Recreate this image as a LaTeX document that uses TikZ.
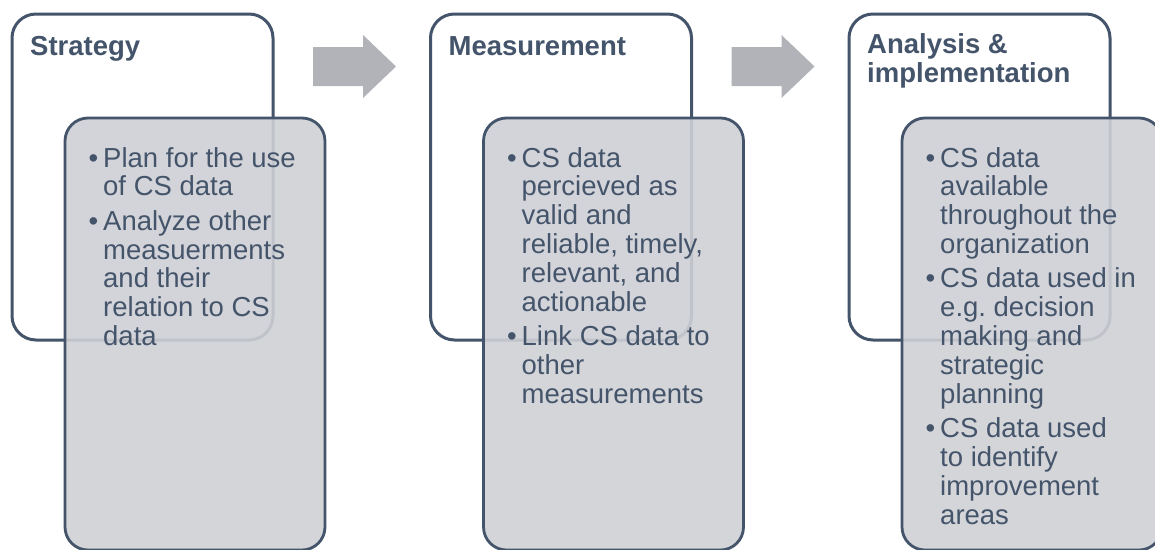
\documentclass[tikz,border=0pt]{standalone}
\usepackage{fontspec}
\setmainfont{Liberation Sans}
\frenchspacing
\definecolor{slate}{HTML}{44546A}
\definecolor{panel}{RGB}{207,208,213}
\definecolor{arrowgray}{RGB}{177,179,185}
\tikzset{
  backbox/.style={draw=slate, line width=3pt, fill=white, rounded corners=24pt,
    rectangle, outer sep=0pt, anchor=north west, minimum width=261pt, minimum height=326pt},
  frontbox/.style={draw=slate, line width=2.8pt, fill=panel, fill opacity=0.9, rounded corners=23pt,
    rectangle, outer sep=0pt, anchor=north west, minimum width=260pt, minimum height=432pt},
  stagetitle/.style={anchor=base west, inner sep=0pt, text=slate,
    font=\fontsize{27.5}{28.5}\selectfont\bfseries},
  bulletlist/.style={anchor=base west, inner sep=0pt, text=slate,
    font=\fontsize{27.5}{28.9}\selectfont},
  flowarrow/.style={fill=arrowgray},
}
\newcommand{\bul}{\makebox[14.5pt][l]{\textbullet}}
\newcommand{\gap}{\\[5.3pt]}
\begin{document}
\begin{tikzpicture}[x=1pt,y=-1pt]
\useasboundingbox (0,0) rectangle (1155,549);
\clip (0,0) rectangle (1155,549);

% Stage 1: strategy
\node[backbox] (back1) at (12,14) {};
\node[frontbox] (front1) at (65,118) {};
\node[stagetitle] (title1) at (30,55) {\begin{tabular}[t]{@{}l@{}}Strategy\end{tabular}};
\node[bulletlist] (list1) at (88.5,167) {\begin{tabular}[t]{@{}l@{}l@{}}
\bul & Plan for the use\\
     & of CS data\gap
\bul & Analyze other\\
     & measuerments\\
     & and their\\
     & relation to CS\\
     & data
\end{tabular}};

% Stage 2: measurement
\node[backbox] (back2) at (430.5,14) {};
\node[frontbox] (front2) at (483.5,118) {};
\node[stagetitle] (title2) at (448.5,55) {\begin{tabular}[t]{@{}l@{}}Measurement\end{tabular}};
\node[bulletlist] (list2) at (507,167) {\begin{tabular}[t]{@{}l@{}l@{}}
\bul & CS data\\
     & percieved as\\
     & valid and\\
     & reliable, timely,\\
     & relevant, and\\
     & actionable\gap
\bul & Link CS data to\\
     & other\\
     & measurements
\end{tabular}};

% Stage 3: analysis & implementation
\node[backbox] (back3) at (849,14) {};
\node[frontbox] (front3) at (902,118) {};
\node[stagetitle] (title3) at (867,53.5) {\begin{tabular}[t]{@{}l@{}}Analysis \&\\implementation\end{tabular}};
\node[bulletlist] (list3) at (925.5,167) {\begin{tabular}[t]{@{}l@{}l@{}}
\bul & CS data\\
     & available\\
     & throughout the\\
     & organization\gap
\bul & CS data used in\\
     & e.g. decision\\
     & making and\\
     & strategic\\
     & planning\gap
\bul & CS data used\\
     & to identify\\
     & improvement\\
     & areas
\end{tabular}};

% Block arrows between the stages
\fill[flowarrow] (313,47) -- (363,47) -- (363,35) -- (396,66.5) -- (363,98) -- (363,86) -- (313,86) -- cycle;
\fill[flowarrow] (731.5,47) -- (781.5,47) -- (781.5,35) -- (814.5,66.5) -- (781.5,98) -- (781.5,86) -- (731.5,86) -- cycle;
\end{tikzpicture}
\end{document}
